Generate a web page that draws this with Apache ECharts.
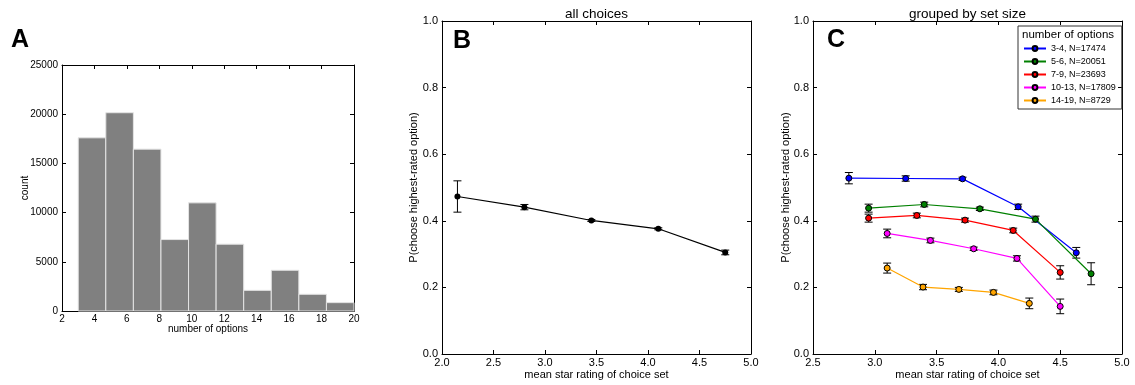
<!DOCTYPE html>
<html>
<head>
<meta charset="utf-8">
<script src="https://cdn.jsdelivr.net/npm/echarts@6/dist/echarts.min.js"></script>
<style>
  html, body { margin: 0; padding: 0; background: #fff; }
  #chart { width: 1135px; height: 385px; }
</style>
</head>
<body>
<div id="chart"></div>
<script>
// panel A: histogram of set sizes
const histEdges = [3, 4.7, 6.4, 8.1, 9.8, 11.5, 13.2, 14.9, 16.6, 18.3, 20];
const histCounts = [17600, 20150, 16450, 7260, 10990, 6790, 2100, 4140, 1700, 850];

// panel B: all choices
const allX = [2.15, 2.8, 3.45, 4.1, 4.75];
const allY = [0.473, 0.441, 0.401, 0.376, 0.305];
const allErr = [0.047, 0.008, 0.003, 0.003, 0.007];

// panel C: grouped by set size
const groupNames = ['3-4, N=17474', '5-6, N=20051', '7-9, N=23693', '10-13, N=17809', '14-19, N=8729'];
const groupColors = ['#0000ff', '#008000', '#ff0000', '#ff00ff', '#ffa500'];
const groupX = [
  [2.79, 3.25, 3.71, 4.16, 4.63],
  [2.95, 3.4, 3.85, 4.3, 4.75],
  [2.95, 3.34, 3.73, 4.12, 4.5],
  [3.1, 3.45, 3.8, 4.15, 4.5],
  [3.1, 3.39, 3.68, 3.96, 4.25]
];
const groupY = [
  [0.528, 0.527, 0.526, 0.442, 0.304],
  [0.438, 0.449, 0.436, 0.405, 0.241],
  [0.408, 0.416, 0.402, 0.371, 0.245],
  [0.362, 0.341, 0.316, 0.287, 0.143],
  [0.258, 0.201, 0.194, 0.185, 0.152]
];
const groupErr = [
  [0.017, 0.008, 0.005, 0.008, 0.016],
  [0.012, 0.007, 0.005, 0.009, 0.033],
  [0.012, 0.007, 0.006, 0.007, 0.02],
  [0.013, 0.007, 0.005, 0.008, 0.022],
  [0.015, 0.008, 0.006, 0.007, 0.016]
];

const font = '"Liberation Sans", Arial, Helvetica, sans-serif';

function xAxes(gi, min, max, interval, fmt, name, fs, gap) {
  return [{
    type: 'value', gridIndex: gi, min: min, max: max, interval: interval, position: 'bottom',
    axisLine: { show: true, onZero: false, lineStyle: { color: '#000', width: 1 } },
    axisTick: { show: true, inside: true, length: 4, lineStyle: { color: '#000' } },
    axisLabel: { color: '#000', fontSize: fs, fontFamily: font, margin: 3, formatter: fmt, showMinLabel: true, showMaxLabel: true },
    splitLine: { show: false },
    name: name, nameLocation: 'middle', nameGap: gap, nameMoveOverlap: false,
    nameTextStyle: { color: '#000', fontSize: fs, fontFamily: font }
  }, {
    type: 'value', gridIndex: gi, min: min, max: max, interval: interval, position: 'top',
    axisLine: { show: true, onZero: false, lineStyle: { color: '#000', width: 1 } },
    axisTick: { show: true, inside: true, length: 4, lineStyle: { color: '#000' } },
    axisLabel: { show: false },
    splitLine: { show: false }
  }];
}

function yAxes(gi, min, max, interval, fmt, name, fs, gap) {
  return [{
    type: 'value', gridIndex: gi, min: min, max: max, interval: interval, position: 'left',
    axisLine: { show: true, onZero: false, lineStyle: { color: '#000', width: 1 } },
    axisTick: { show: true, inside: true, length: 4, lineStyle: { color: '#000' } },
    axisLabel: { color: '#000', fontSize: fs, fontFamily: font, margin: 4, formatter: fmt, showMinLabel: true, showMaxLabel: true },
    splitLine: { show: false },
    name: name, nameLocation: 'middle', nameGap: gap, nameRotate: 90, nameMoveOverlap: false,
    nameTextStyle: { color: '#000', fontSize: fs, fontFamily: font }
  }, {
    type: 'value', gridIndex: gi, min: min, max: max, interval: interval, position: 'right',
    axisLine: { show: true, onZero: false, lineStyle: { color: '#000', width: 1 } },
    axisTick: { show: true, inside: true, length: 4, lineStyle: { color: '#000' } },
    axisLabel: { show: false },
    splitLine: { show: false }
  }];
}

const fix1 = v => v.toFixed(1);
const plain = v => String(v);

function errRender(params, api) {
  const x = api.value(0);
  const p1 = api.coord([x, api.value(1)]);
  const p2 = api.coord([x, api.value(2)]);
  const w = 4;
  const style = { stroke: '#000', lineWidth: 1 };
  return {
    type: 'group',
    children: [
      { type: 'line', shape: { x1: p1[0], y1: p1[1], x2: p2[0], y2: p2[1] }, style: style },
      { type: 'line', shape: { x1: p1[0] - w, y1: p1[1], x2: p1[0] + w, y2: p1[1] }, style: style },
      { type: 'line', shape: { x1: p2[0] - w, y1: p2[1], x2: p2[0] + w, y2: p2[1] }, style: style }
    ]
  };
}

function histRender(params, api) {
  const a = api.coord([api.value(0), api.value(2)]);
  const b = api.coord([api.value(1), 0]);
  return {
    type: 'rect',
    shape: { x: a[0], y: a[1], width: b[0] - a[0], height: b[1] - a[1] },
    style: { fill: '#808080', stroke: '#e4e4e4', lineWidth: 1 }
  };
}

const errData = (xs, ys, es) => xs.map((x, i) => [x, ys[i] - es[i], ys[i] + es[i]]);
const lineData = (xs, ys) => xs.map((x, i) => [x, ys[i]]);

const series = [];

series.push({
  type: 'custom', name: 'count', xAxisIndex: 0, yAxisIndex: 0,
  renderItem: histRender,
  encode: { x: [0, 1], y: 2 },
  data: histCounts.map((c, i) => [histEdges[i], histEdges[i + 1], c])
});

series.push({
  type: 'custom', name: 'all err', xAxisIndex: 2, yAxisIndex: 2, z: 2,
  renderItem: errRender, encode: { x: 0, y: [1, 2] },
  data: errData(allX, allY, allErr)
});
series.push({
  type: 'line', name: 'all choices', xAxisIndex: 2, yAxisIndex: 2, z: 3,
  data: lineData(allX, allY),
  symbol: 'circle', symbolSize: 6,
  lineStyle: { color: '#000', width: 1.2 },
  itemStyle: { color: '#000' }
});

groupNames.forEach((name, g) => {
  series.push({
    type: 'custom', name: name + ' err', xAxisIndex: 4, yAxisIndex: 4, z: 2,
    renderItem: errRender, encode: { x: 0, y: [1, 2] },
    data: errData(groupX[g], groupY[g], groupErr[g])
  });
  series.push({
    type: 'line', name: name, xAxisIndex: 4, yAxisIndex: 4, z: 3,
    data: lineData(groupX[g], groupY[g]),
    symbol: 'circle', symbolSize: 6,
    lineStyle: { color: groupColors[g], width: 1.2 },
    itemStyle: { color: groupColors[g], borderColor: '#000', borderWidth: 1 }
  });
});

const option = {
  animation: false,
  backgroundColor: '#fff',
  grid: [
    { left: 62, top: 65, width: 292, height: 246 },
    { left: 442, top: 21, width: 309, height: 333 },
    { left: 813, top: 21, width: 309, height: 333 }
  ],
  xAxis: [].concat(
    xAxes(0, 2, 20, 2, plain, 'number of options', 10, 13),
    xAxes(1, 2.0, 5.0, 0.5, fix1, 'mean star rating of choice set', 11, 15),
    xAxes(2, 2.5, 5.0, 0.5, fix1, 'mean star rating of choice set', 11, 15)
  ),
  yAxis: [].concat(
    yAxes(0, 0, 25000, 5000, plain, 'count', 10, 32),
    yAxes(1, 0, 1, 0.2, fix1, 'P(choose highest-rated option)', 11, 23),
    yAxes(2, 0, 1, 0.2, fix1, 'P(choose highest-rated option)', 11, 22)
  ),
  legend: {
    data: groupNames,
    orient: 'vertical',
    left: 1018, top: 26,
    padding: [18, 6, 4, 5],
    itemWidth: 22, itemHeight: 6, itemGap: 4,
    borderColor: '#333', borderWidth: 1,
    textStyle: { fontSize: 9, fontFamily: font, color: '#000' }
  },
  graphic: [
    { type: 'text', x: 11, y: 28, style: { text: 'A', font: 'bold 25px ' + font, fill: '#000' } },
    { type: 'text', x: 453, y: 29, style: { text: 'B', font: 'bold 25px ' + font, fill: '#000' } },
    { type: 'text', x: 827, y: 28, style: { text: 'C', font: 'bold 25px ' + font, fill: '#000' } },
    { type: 'text', x: 596.5, y: 14, style: { text: 'all choices', font: '13.5px ' + font, fill: '#000', align: 'center', verticalAlign: 'middle' } },
    { type: 'text', x: 967.5, y: 14, style: { text: 'grouped by set size', font: '13.5px ' + font, fill: '#000', align: 'center', verticalAlign: 'middle' } },
    { type: 'text', x: 1022, y: 29, style: { text: 'number of options', font: '11.5px ' + font, fill: '#000' } }
  ],
  series: series
};

const chart = echarts.init(document.getElementById('chart'));
chart.setOption(option);
</script>
</body>
</html>
